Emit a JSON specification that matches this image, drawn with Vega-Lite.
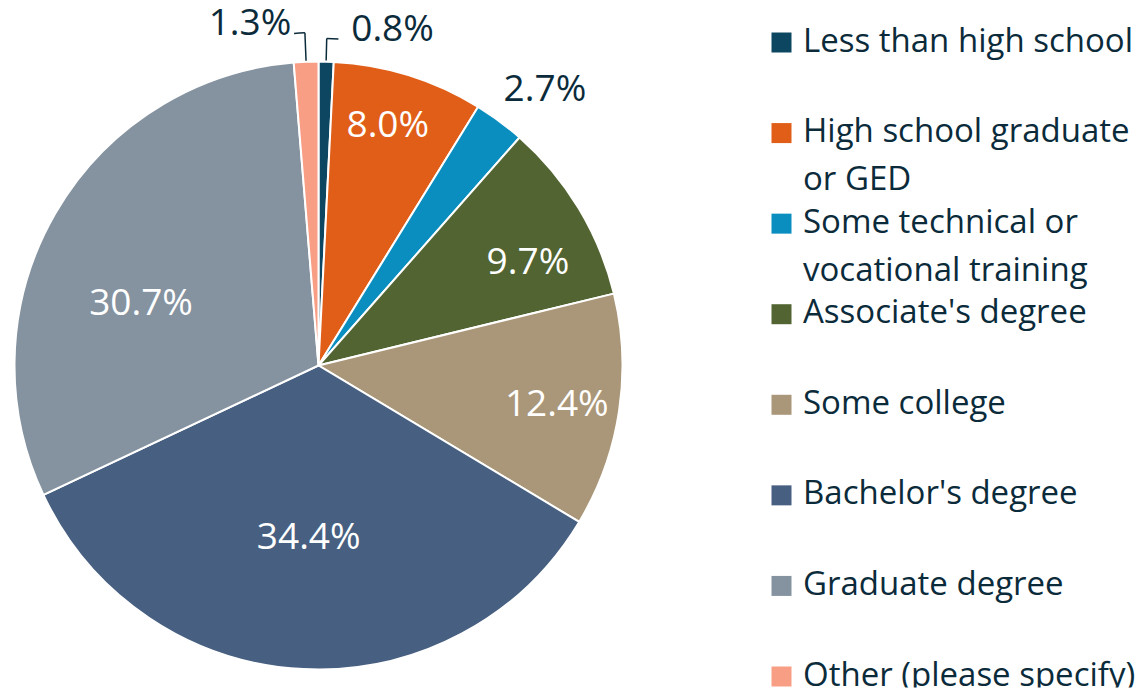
{
  "$schema": "https://vega.github.io/schema/vega-lite/v6.json",
  "padding": {"top": 4.5, "left": 0, "right": 0, "bottom": 0},
  "spacing": 0,
  "config": {"view": {"stroke": null}, "font": "Open Sans"},
  "data": {
    "values": [
      {"cat": "Less than high school", "pct": 0.8},
      {"cat": "High school graduate or GED", "pct": 8.0},
      {"cat": "Some technical or vocational training", "pct": 2.7},
      {"cat": "Associate's degree", "pct": 9.7},
      {"cat": "Some college", "pct": 12.4},
      {"cat": "Bachelor's degree", "pct": 34.4},
      {"cat": "Graduate degree", "pct": 30.7},
      {"cat": "Other (please specify)", "pct": 1.3}
    ]
  },
  "hconcat": [
    {
      "width": 637,
      "height": 644,
      "transform": [
        {"window": [{"op": "row_number", "as": "rank"}, {"op": "sum", "field": "pct", "as": "cum"}], "frame": [null, 0]},
        {"calculate": "datum.cum - datum.pct / 2", "as": "mid"},
        {"calculate": "format(datum.pct, '.1f') + '%'", "as": "lbl"}
      ],
      "layer": [
        {
          "mark": {"type": "arc", "radius": 304, "stroke": "#ffffff", "strokeWidth": 2},
          "encoding": {
            "theta": {"field": "pct", "type": "quantitative", "stack": true, "scale": {"domain": [0, 100]}},
            "order": {"field": "rank", "type": "quantitative"},
            "color": {
              "field": "cat", "type": "nominal", "legend": null,
              "scale": {
                "domain": ["Less than high school", "High school graduate or GED", "Some technical or vocational training", "Associate's degree", "Some college", "Bachelor's degree", "Graduate degree", "Other (please specify)"],
                "range": ["#0d4660", "#e05e18", "#0a8ec0", "#526431", "#aa9678", "#475f80", "#85929f", "#f79e85"]
              }
            }
          }
        },
        {
          "transform": [{"filter": "datum.cat == 'High school graduate or GED'"}],
          "mark": {"type": "text", "fontSize": 37, "fill": "#ffffff", "align": "center", "baseline": "middle", "radius": 240, "dx": -2, "dy": -10},
          "encoding": {"theta": {"field": "mid", "type": "quantitative", "scale": {"domain": [0, 100]}}, "text": {"field": "lbl"}}
        },
        {
          "transform": [{"filter": "datum.cat == \"Associate's degree\""}],
          "mark": {"type": "text", "fontSize": 37, "fill": "#ffffff", "align": "center", "baseline": "middle", "radius": 240, "dx": 4, "dy": 22},
          "encoding": {"theta": {"field": "mid", "type": "quantitative", "scale": {"domain": [0, 100]}}, "text": {"field": "lbl"}}
        },
        {
          "transform": [{"filter": "datum.cat == 'Some college'"}],
          "mark": {"type": "text", "fontSize": 37, "fill": "#ffffff", "align": "center", "baseline": "middle", "radius": 240, "dx": 1, "dy": 3},
          "encoding": {"theta": {"field": "mid", "type": "quantitative", "scale": {"domain": [0, 100]}}, "text": {"field": "lbl"}}
        },
        {
          "transform": [{"filter": "datum.cat == \"Bachelor's degree\""}],
          "mark": {"type": "text", "fontSize": 37, "fill": "#ffffff", "align": "center", "baseline": "middle", "radius": 175, "dx": -1, "dy": -2},
          "encoding": {"theta": {"field": "mid", "type": "quantitative", "scale": {"domain": [0, 100]}}, "text": {"field": "lbl"}}
        },
        {
          "transform": [{"filter": "datum.cat == 'Graduate degree'"}],
          "mark": {"type": "text", "fontSize": 37, "fill": "#ffffff", "align": "center", "baseline": "middle", "radius": 190, "dx": -13, "dy": 34},
          "encoding": {"theta": {"field": "mid", "type": "quantitative", "scale": {"domain": [0, 100]}}, "text": {"field": "lbl"}}
        },
        {
          "transform": [{"filter": "datum.cat == 'Less than high school'"}],
          "mark": {"type": "text", "fontSize": 37, "fill": "#0b2b3b", "align": "center", "baseline": "middle", "radius": 340, "dx": 65.5, "dy": 4},
          "encoding": {"theta": {"field": "mid", "type": "quantitative", "scale": {"domain": [0, 100]}}, "text": {"field": "lbl"}}
        },
        {
          "transform": [{"filter": "datum.cat == 'Some technical or vocational training'"}],
          "mark": {"type": "text", "fontSize": 37, "fill": "#0b2b3b", "align": "center", "baseline": "middle", "radius": 340, "dx": 24, "dy": -2},
          "encoding": {"theta": {"field": "mid", "type": "quantitative", "scale": {"domain": [0, 100]}}, "text": {"field": "lbl"}}
        },
        {
          "transform": [{"filter": "datum.cat == 'Other (please specify)'"}],
          "mark": {"type": "text", "fontSize": 37, "fill": "#0b2b3b", "align": "center", "baseline": "middle", "radius": 340, "dx": -54.6, "dy": -2},
          "encoding": {"theta": {"field": "mid", "type": "quantitative", "scale": {"domain": [0, 100]}}, "text": {"field": "lbl"}}
        },
        {
          "transform": [{"filter": "datum.cat == 'Less than high school'"}],
          "mark": {"type": "arc", "radius": 327, "radius2": 305, "stroke": "#0b2b3b", "strokeWidth": 1.5, "fillOpacity": 0},
          "encoding": {"theta": {"field": "mid", "type": "quantitative", "scale": {"domain": [0, 100]}}, "theta2": {"field": "mid"}}
        },
        {
          "transform": [{"filter": "datum.cat == 'Less than high school'"}, {"calculate": "datum.mid + 0.57", "as": "lead"}],
          "mark": {"type": "arc", "radius": 327, "radius2": 327, "stroke": "#0b2b3b", "strokeWidth": 1.5, "fillOpacity": 0},
          "encoding": {"theta": {"field": "mid", "type": "quantitative", "scale": {"domain": [0, 100]}}, "theta2": {"field": "lead"}}
        },
        {
          "transform": [{"filter": "datum.cat == 'Other (please specify)'"}],
          "mark": {"type": "arc", "radius": 333, "radius2": 305, "stroke": "#0b2b3b", "strokeWidth": 1.5, "fillOpacity": 0},
          "encoding": {"theta": {"field": "mid", "type": "quantitative", "scale": {"domain": [0, 100]}}, "theta2": {"field": "mid"}}
        },
        {
          "transform": [{"filter": "datum.cat == 'Other (please specify)'"}, {"calculate": "datum.mid - 0.52", "as": "lead"}],
          "mark": {"type": "arc", "radius": 333, "radius2": 333, "stroke": "#0b2b3b", "strokeWidth": 1.5, "fillOpacity": 0},
          "encoding": {"theta": {"field": "mid", "type": "quantitative", "scale": {"domain": [0, 100]}}, "theta2": {"field": "lead"}}
        }
      ]
    },
    {
      "width": 504,
      "height": 644,
      "transform": [
        {"calculate": "replace(replace(datum.cat, ' or GED', '\\nor GED'), ' vocational', '\\nvocational')", "as": "label"}
      ],
      "encoding": {
        "y": {
          "field": "cat", "type": "nominal", "axis": null,
          "scale": {
            "type": "point", "padding": 0, "range": [-1, 633],
            "domain": ["Less than high school", "High school graduate or GED", "Some technical or vocational training", "Associate's degree", "Some college", "Bachelor's degree", "Graduate degree", "Other (please specify)"]
          }
        }
      },
      "layer": [
        {
          "mark": {"type": "square", "size": 400, "filled": true, "opacity": 1},
          "encoding": {
            "x": {"value": 144.5},
            "color": {
              "field": "cat", "type": "nominal", "legend": null,
              "scale": {
                "domain": ["Less than high school", "High school graduate or GED", "Some technical or vocational training", "Associate's degree", "Some college", "Bachelor's degree", "Graduate degree", "Other (please specify)"],
                "range": ["#0d4660", "#e05e18", "#0a8ec0", "#526431", "#aa9678", "#475f80", "#85929f", "#f79e85"]
              }
            }
          }
        },
        {
          "transform": [{"filter": "datum.cat != 'Other (please specify)'"}],
          "mark": {"type": "text", "align": "left", "baseline": "alphabetic", "dy": 9, "fontSize": 33, "lineBreak": "\n", "lineHeight": 48, "fill": "#0b2b3b"},
          "encoding": {"x": {"value": 166}, "text": {"field": "label"}}
        },
        {
          "transform": [{"filter": "datum.cat == 'Other (please specify)'"}],
          "mark": {"type": "text", "align": "left", "baseline": "alphabetic", "dy": 9, "fontSize": 33, "fill": "#0b2b3b", "clip": true},
          "encoding": {"x": {"value": 166}, "text": {"field": "label"}}
        }
      ]
    }
  ]
}
